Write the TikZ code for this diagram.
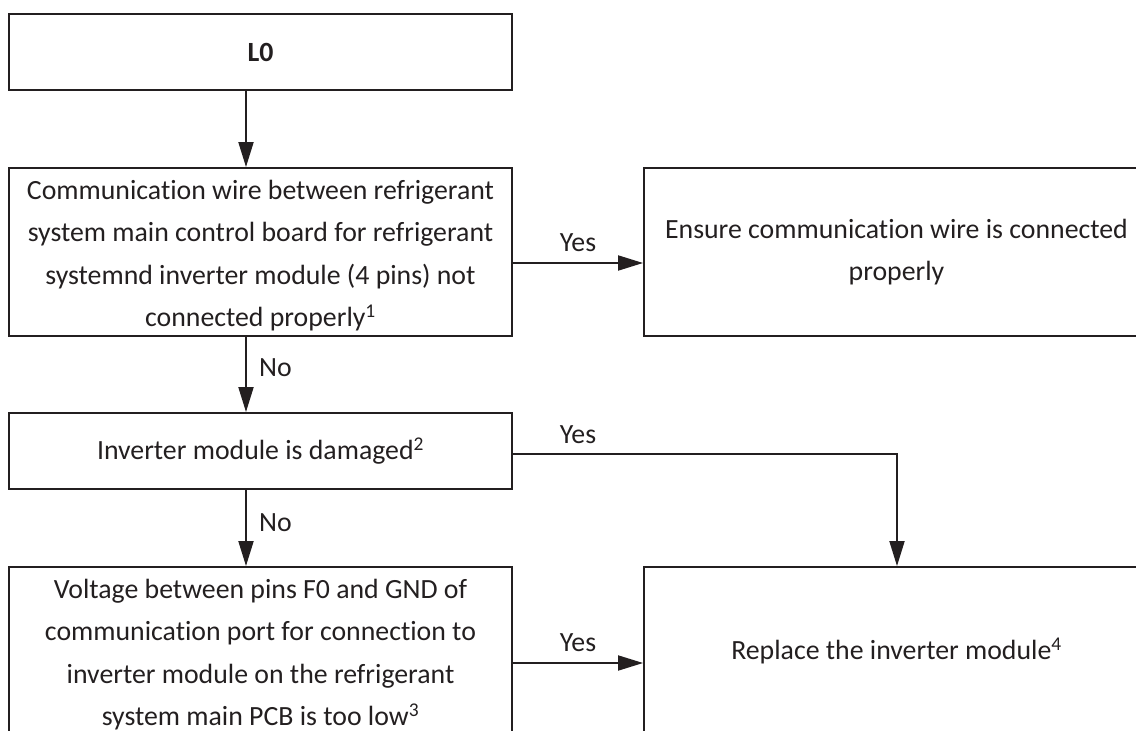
\documentclass[tikz,border=0pt]{standalone}
\usepackage{fontspec}
\setmainfont[Ligatures=NoCommon]{Carlito}
\usetikzlibrary{arrows.meta}
\definecolor{ink}{HTML}{231F20}
\newcommand{\topstrut}{\rule{0pt}{26pt}}
\begin{document}
\begin{tikzpicture}[x=1pt,y=-1pt,
  box/.style={draw=ink, line width=1.9pt, rectangle, minimum width=503pt, align=center, text=ink, inner sep=0pt, font=\fontsize{27.8}{42.5}\selectfont},
  arr/.style={draw=ink, line width=1.9pt, -{Triangle[length=25pt,width=15pt]}},
  lbl/.style={text=ink, inner sep=0pt, font=\fontsize{27.8}{33}\selectfont}]
\useasboundingbox (0,0) rectangle (1136,731);
\clip (0,0) rectangle (1136,731);
% left column
\node[box, minimum height=76pt] (l0) at (260.5,52) {\textbf{L0}};
\node[box, minimum height=168pt] (q1) at (260.5,252) {\topstrut Communication wire between refrigerant\\system main control board for refrigerant\\systemnd inverter module (4 pins) not\\connected properly\textsuperscript{1}};
\node[box, minimum height=76pt] (q2) at (260.5,451) {Inverter module is damaged\textsuperscript{2}};
\node[box, minimum height=168pt] (q3) at (260.5,651) {\topstrut Voltage between pins F0 and GND of\\communication port for connection to\\inverter module on the refrigerant\\system main PCB is too low\textsuperscript{3}};
% right column
\node[box, minimum width=505pt, minimum height=168pt] (a1) at (896.5,252) {Ensure communication wire is connected\\properly};
\node[box, minimum width=505pt, minimum height=168pt] (a2) at (896.5,651) {Replace the inverter module\textsuperscript{4}};
% helper coordinates
\coordinate (ax) at (246,0);
\coordinate (tx) at (897,0);
% connectors
\draw[arr] (ax |- l0.south) -- (ax |- q1.north);
\draw[arr] (ax |- q1.south) -- (ax |- q2.north);
\draw[arr] (ax |- q2.south) -- (ax |- q3.north);
\draw[arr] ([yshift=-11pt]q1.east) -- ([yshift=-11pt]q1.east -| a1.west);
\draw[arr] ([yshift=-3pt]q2.east) -| (tx |- a2.north);
\draw[arr] ([yshift=-12pt]q3.east) -- ([yshift=-12pt]q3.east -| a2.west);
% labels
\node[lbl] (y1) at (578,243) {Yes};
\node[lbl] (y2) at (578,435) {Yes};
\node[lbl] (y3) at (578,643) {Yes};
\node[lbl, anchor=west] (n1) at (259,368) {No};
\node[lbl, anchor=west] (n2) at (259,523) {No};
\end{tikzpicture}
\end{document}
